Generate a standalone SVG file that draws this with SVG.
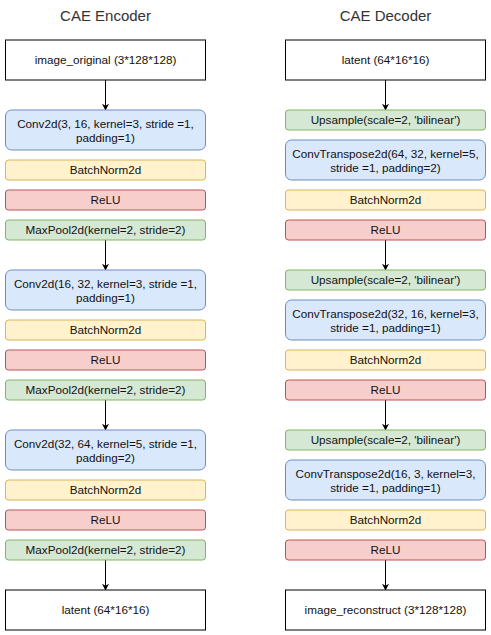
<svg xmlns="http://www.w3.org/2000/svg" width="491" height="635" viewBox="0 0 491 635">
<style>
text{font-family:"Liberation Sans",Arial,sans-serif;font-size:11.7px;fill:#111;text-anchor:middle}
.title{font-size:15px;fill:#333}
.plain{fill:#fff;stroke:#000;stroke-width:1}
.conv{fill:#dae8fc;stroke:#6c8ebf;stroke-width:1}
.bn{fill:#fff2cc;stroke:#d6b656;stroke-width:1}
.relu{fill:#f8cecc;stroke:#b85450;stroke-width:1}
.pool{fill:#d5e8d4;stroke:#82b366;stroke-width:1}
.edge{stroke:#000;stroke-width:1;fill:none;marker-end:url(#arr)}
</style>
<defs>
<marker id="arr" viewBox="0 0 10 10" refX="9" refY="5" markerWidth="7" markerHeight="7" markerUnits="userSpaceOnUse" orient="auto">
<path d="M0,0 L10,5 L0,10 L3,5 Z" fill="#000"/>
</marker>
</defs>
<text class="title" x="105.5" y="21">CAE Encoder</text>
<text class="title" x="385.5" y="21">CAE Decoder</text>
<g id="connectors">
<line class="edge" x1="105.5" y1="80" x2="105.5" y2="110"/>
<line class="edge" x1="105.5" y1="240" x2="105.5" y2="270"/>
<line class="edge" x1="105.5" y1="400" x2="105.5" y2="430"/>
<line class="edge" x1="105.5" y1="560" x2="105.5" y2="590"/>
<line class="edge" x1="385.5" y1="80" x2="385.5" y2="110"/>
<line class="edge" x1="385.5" y1="240" x2="385.5" y2="270"/>
<line class="edge" x1="385.5" y1="400" x2="385.5" y2="430"/>
<line class="edge" x1="385.5" y1="560" x2="385.5" y2="590"/>
</g>
<g id="enc_in"><rect class="plain" x="5.5" y="40" width="200" height="40"/><text x="105.5" y="64">image_original (3*128*128)</text></g>
<g id="enc_conv1"><rect class="conv" x="5.5" y="110" width="200" height="40" rx="6"/><text x="105.5" y="127.5">Conv2d(3, 16, kernel=3, stride =1,</text><text x="105.5" y="141.5">padding=1)</text></g>
<g id="enc_bn1"><rect class="bn" x="5.5" y="160" width="200" height="20" rx="3"/><text x="105.5" y="174">BatchNorm2d</text></g>
<g id="enc_relu1"><rect class="relu" x="5.5" y="190" width="200" height="20" rx="3"/><text x="105.5" y="204">ReLU</text></g>
<g id="enc_pool1"><rect class="pool" x="5.5" y="220" width="200" height="20" rx="3"/><text x="105.5" y="234">MaxPool2d(kernel=2, stride=2)</text></g>
<g id="enc_conv2"><rect class="conv" x="5.5" y="270" width="200" height="40" rx="6"/><text x="105.5" y="287.5">Conv2d(16, 32, kernel=3, stride =1,</text><text x="105.5" y="301.5">padding=1)</text></g>
<g id="enc_bn2"><rect class="bn" x="5.5" y="320" width="200" height="20" rx="3"/><text x="105.5" y="334">BatchNorm2d</text></g>
<g id="enc_relu2"><rect class="relu" x="5.5" y="350" width="200" height="20" rx="3"/><text x="105.5" y="364">ReLU</text></g>
<g id="enc_pool2"><rect class="pool" x="5.5" y="380" width="200" height="20" rx="3"/><text x="105.5" y="394">MaxPool2d(kernel=2, stride=2)</text></g>
<g id="enc_conv3"><rect class="conv" x="5.5" y="430" width="200" height="40" rx="6"/><text x="105.5" y="447.5">Conv2d(32, 64, kernel=5, stride =1,</text><text x="105.5" y="461.5">padding=2)</text></g>
<g id="enc_bn3"><rect class="bn" x="5.5" y="480" width="200" height="20" rx="3"/><text x="105.5" y="494">BatchNorm2d</text></g>
<g id="enc_relu3"><rect class="relu" x="5.5" y="510" width="200" height="20" rx="3"/><text x="105.5" y="524">ReLU</text></g>
<g id="enc_pool3"><rect class="pool" x="5.5" y="540" width="200" height="20" rx="3"/><text x="105.5" y="554">MaxPool2d(kernel=2, stride=2)</text></g>
<g id="enc_out"><rect class="plain" x="5.5" y="590" width="200" height="40"/><text x="105.5" y="614">latent (64*16*16)</text></g>
<g id="dec_in"><rect class="plain" x="285.5" y="40" width="200" height="40"/><text x="385.5" y="64">latent (64*16*16)</text></g>
<g id="dec_up1"><rect class="pool" x="285.5" y="110" width="200" height="20" rx="3"/><text x="385.5" y="124">Upsample(scale=2, 'bilinear')</text></g>
<g id="dec_conv1"><rect class="conv" x="285.5" y="140" width="200" height="40" rx="6"/><text x="385.5" y="157.5">ConvTranspose2d(64, 32, kernel=5,</text><text x="385.5" y="171.5">stride =1, padding=2)</text></g>
<g id="dec_bn1"><rect class="bn" x="285.5" y="190" width="200" height="20" rx="3"/><text x="385.5" y="204">BatchNorm2d</text></g>
<g id="dec_relu1"><rect class="relu" x="285.5" y="220" width="200" height="20" rx="3"/><text x="385.5" y="234">ReLU</text></g>
<g id="dec_up2"><rect class="pool" x="285.5" y="270" width="200" height="20" rx="3"/><text x="385.5" y="284">Upsample(scale=2, 'bilinear')</text></g>
<g id="dec_conv2"><rect class="conv" x="285.5" y="300" width="200" height="40" rx="6"/><text x="385.5" y="317.5">ConvTranspose2d(32, 16, kernel=3,</text><text x="385.5" y="331.5">stride =1, padding=1)</text></g>
<g id="dec_bn2"><rect class="bn" x="285.5" y="350" width="200" height="20" rx="3"/><text x="385.5" y="364">BatchNorm2d</text></g>
<g id="dec_relu2"><rect class="relu" x="285.5" y="380" width="200" height="20" rx="3"/><text x="385.5" y="394">ReLU</text></g>
<g id="dec_up3"><rect class="pool" x="285.5" y="430" width="200" height="20" rx="3"/><text x="385.5" y="444">Upsample(scale=2, 'bilinear')</text></g>
<g id="dec_conv3"><rect class="conv" x="285.5" y="460" width="200" height="40" rx="6"/><text x="385.5" y="477.5">ConvTranspose2d(16, 3, kernel=3,</text><text x="385.5" y="491.5">stride =1, padding=1)</text></g>
<g id="dec_bn3"><rect class="bn" x="285.5" y="510" width="200" height="20" rx="3"/><text x="385.5" y="524">BatchNorm2d</text></g>
<g id="dec_relu3"><rect class="relu" x="285.5" y="540" width="200" height="20" rx="3"/><text x="385.5" y="554">ReLU</text></g>
<g id="dec_out"><rect class="plain" x="285.5" y="590" width="200" height="40"/><text x="385.5" y="614">image_reconstruct (3*128*128)</text></g>
</svg>
